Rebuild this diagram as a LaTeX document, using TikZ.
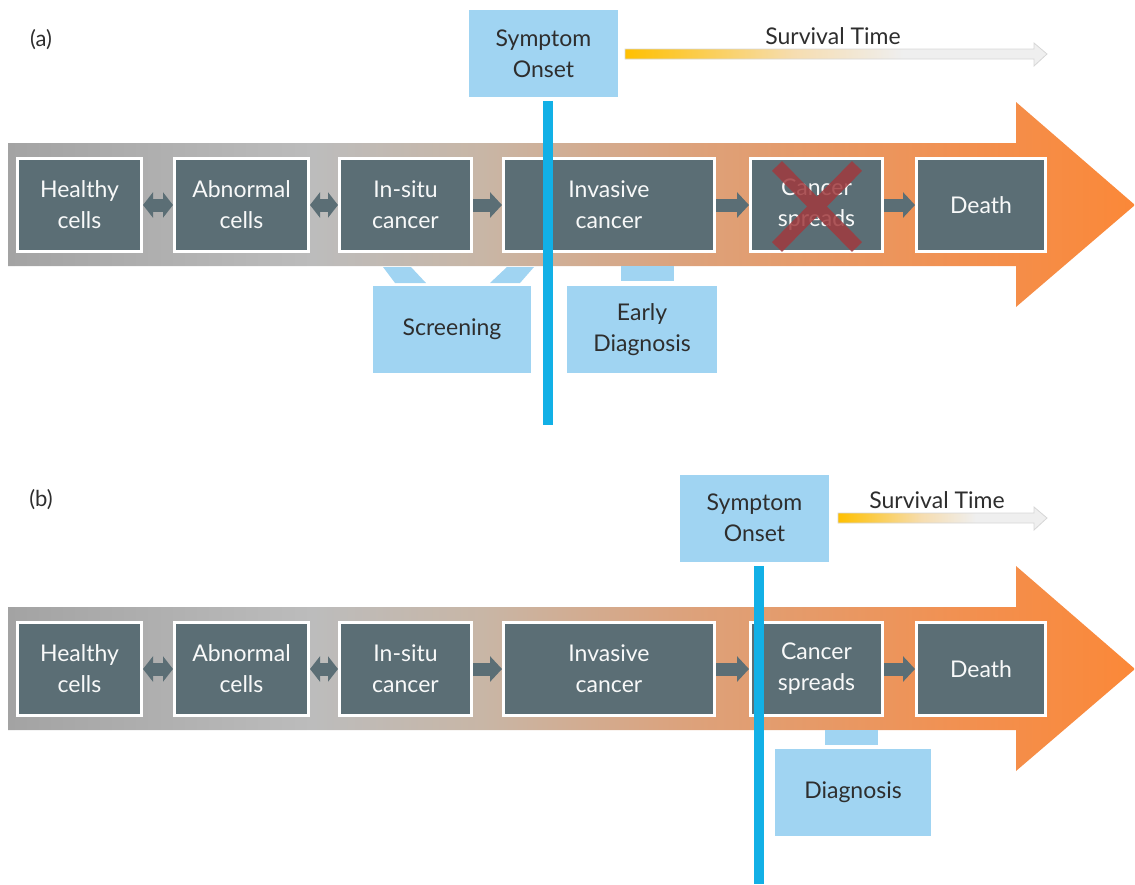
\documentclass[tikz,border=0pt]{standalone}
\usepackage{fontspec}
\setmainfont{Lato}
\usetikzlibrary{arrows.meta}
\definecolor{slate}{HTML}{5B6E75}
\definecolor{lblue}{HTML}{A0D4F2}
\definecolor{vblue}{HTML}{12B0E6}
\definecolor{txtdark}{HTML}{2E2E2E}
\definecolor{xred}{HTML}{A03A3E}
\definecolor{ga}{HTML}{A3A3A3}
\definecolor{gb}{HTML}{BCBCBC}
\definecolor{gc}{HTML}{C8B6A6}
\definecolor{gd}{HTML}{DCA27C}
\definecolor{ge}{HTML}{F29050}
\definecolor{gf}{HTML}{FB8838}
\definecolor{sa}{HTML}{FFC000}
\definecolor{sb}{HTML}{F6DDB0}
\definecolor{sc}{HTML}{EFEFEF}
\definecolor{sline}{HTML}{D6D6D6}
\pgfdeclarehorizontalshading{bigarrow}{100bp}{color(0bp)=(ga); color(25bp)=(ga); color(38.5bp)=(gb); color(46bp)=(gc); color(55bp)=(gd); color(67.5bp)=(ge); color(75bp)=(gf); color(100bp)=(gf)}
\pgfdeclarehorizontalshading{survival}{100bp}{color(0bp)=(sa); color(25bp)=(sa); color(45bp)=(sb); color(58bp)=(sc); color(75bp)=(sc); color(100bp)=(sc)}
\begin{document}
\begin{tikzpicture}[x=1pt,y=-1pt,
  cell/.style={draw=white, line width=3pt, fill=slate, text=white!96!slate,
    font=\fontsize{23}{31}\selectfont, align=center, inner sep=0pt, minimum height=93pt},
  lbox/.style={fill=lblue, text=txtdark, font=\fontsize{23}{31}\selectfont,
    align=center, inner sep=0pt, minimum height=87pt},
  dblarr/.style={draw=slate, line width=13pt,
    {Triangle[length=10pt,width=25pt]}-{Triangle[length=10pt,width=25pt]}},
  sglarr/.style={draw=slate, line width=13pt, -{Triangle[length=12pt,width=25pt]}},
  vline/.style={draw=vblue, line width=10pt},
  tab/.style={fill=lblue},
  survtext/.style={text=txtdark, font=\fontsize{23}{27}\selectfont},
  plabel/.style={text=txtdark, font=\fontsize{22}{26}\selectfont}
]
\useasboundingbox (0,0) rectangle (1135,884);

% ================= panel (a) =================
\node[plabel] (la) at (41,40) {(a)};
\shade[shading=bigarrow] (8,143) -- (1016,143) -- (1016,102) -- (1135,205)
  -- (1016,307) -- (1016,266) -- (8,266) -- cycle;

\node[cell, minimum width=124pt] (h1) at (79.5,205) {Healthy\\cells};
\node[cell, minimum width=134pt] (a1) at (241.5,205) {Abnormal\\cells};
\node[cell, minimum width=132pt] (i1) at (405.5,205) {In-situ\\cancer};
\node[cell, minimum width=211pt] (v1) at (609,205) {Invasive\\cancer};
\node[cell, minimum width=132pt] (s1) at (816.5,205) {Cancer\\spreads};
\node[cell, minimum width=129pt] (d1) at (981,205) {Death};
\draw[dblarr] (h1.east) -- (a1.west);
\draw[dblarr] (a1.east) -- (i1.west);
\draw[sglarr] (i1.east) -- (v1.west);
\draw[sglarr] (v1.east) -- (s1.west);
\draw[sglarr] (s1.east) -- (d1.west);

% red cross
\coordinate (x1a) at (777,166); \coordinate (x1b) at (857,247);
\coordinate (x1c) at (857,166); \coordinate (x1d) at (777,247);
\draw[xred, opacity=0.85, line width=14pt] (x1a) -- (x1b) (x1c) -- (x1d);

% screening / early diagnosis
\node[lbox, minimum width=158pt] (scr) at (452,329.5) {Screening};
\node[lbox, minimum width=150pt] (ed) at (642,329.5) {Early\\Diagnosis};
\fill[tab] (383,267) -- (411,267) -- (426,283) -- (395,283) -- cycle;
\fill[tab] (507,267) -- (534,267) -- (520,283) -- (490,283) -- cycle;
\fill[tab] (621,266) rectangle (674,281);

% symptom onset
\coordinate (va) at (548,101); \coordinate (vb) at (548,425);
\draw[vline] (va) -- (vb);
\node[lbox, minimum width=149pt] (so1) at (543.5,53.5) {Symptom\\Onset};

% survival time
\shade[shading=survival, draw=sline, line width=0.8pt]
  (625,49) -- (1034,49) -- (1034,43) -- (1047,54) -- (1034,66) -- (1034,59) -- (625,59) -- cycle;
\node[survtext] (st1) at (833,36) {Survival Time};

% ================= panel (b) =================
\node[plabel] (lb) at (41,500) {(b)};
\shade[shading=bigarrow] (8,607) -- (1016,607) -- (1016,566) -- (1135,669)
  -- (1016,771) -- (1016,730) -- (8,730) -- cycle;

\node[cell, minimum width=124pt] (h2) at (79.5,669) {Healthy\\cells};
\node[cell, minimum width=134pt] (a2) at (241.5,669) {Abnormal\\cells};
\node[cell, minimum width=132pt] (i2) at (405.5,669) {In-situ\\cancer};
\node[cell, minimum width=211pt] (v2) at (609,669) {Invasive\\cancer};
\node[cell, minimum width=132pt] (s2) at (816.5,669) {Cancer\\spreads};
\node[cell, minimum width=129pt] (d2) at (981,669) {Death};
\draw[dblarr] (h2.east) -- (a2.west);
\draw[dblarr] (a2.east) -- (i2.west);
\draw[sglarr] (i2.east) -- (v2.west);
\draw[sglarr] (v2.east) -- (s2.west);
\draw[sglarr] (s2.east) -- (d2.west);

\node[lbox, minimum width=156pt] (dg) at (853,792.5) {Diagnosis};
\fill[tab] (825,730) rectangle (878,745);

\coordinate (vc) at (759,566); \coordinate (vd) at (759,884);
\draw[vline] (vc) -- (vd);
\node[lbox, minimum width=149pt] (so2) at (754.5,518) {Symptom\\Onset};

\shade[shading=survival, draw=sline, line width=0.8pt]
  (838,513) -- (1034,513) -- (1034,507) -- (1047,518) -- (1034,530) -- (1034,523) -- (838,523) -- cycle;
\node[survtext] (st2) at (937,500) {Survival Time};
\end{tikzpicture}
\end{document}
